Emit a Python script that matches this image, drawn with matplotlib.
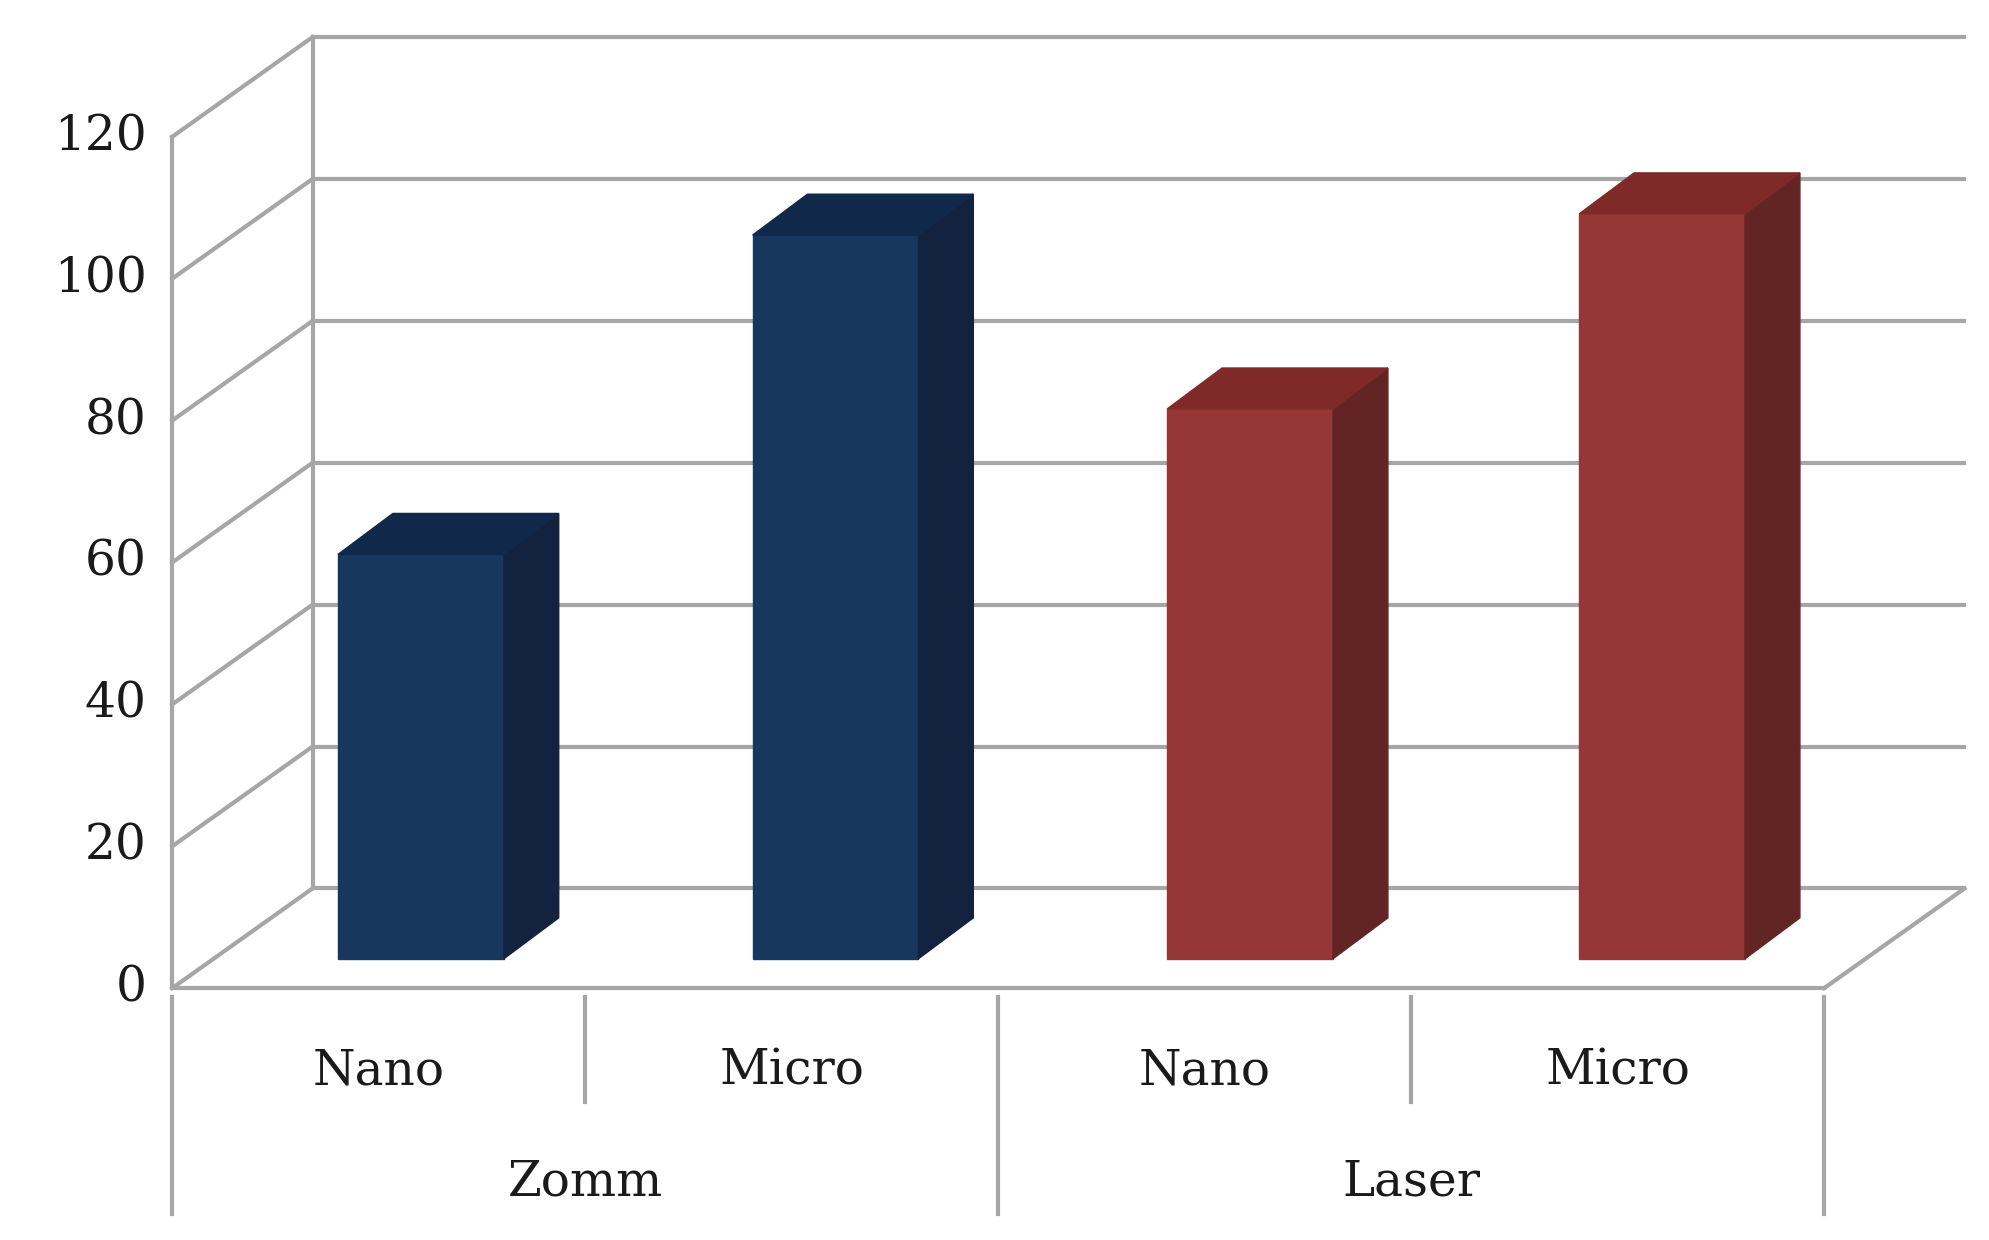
import matplotlib.pyplot as plt
from matplotlib.patches import Polygon

groups = ['Zomm', 'Laser']
categories = ['Nano', 'Micro', 'Nano', 'Micro']
values = [57, 102, 77.5, 105]
ticks = [0, 20, 40, 60, 80, 100, 120]

front = ['#17375E', '#17375E', '#953735', '#953735']
side = ['#13233F', '#13233F', '#632523', '#632523']
top = ['#10294A', '#10294A', '#7F2A28', '#7F2A28']
grid_c = '#A6A6A6'

fig = plt.figure(figsize=(19.9, 12.4), dpi=100)
ax = fig.add_axes([0, 0, 1, 1])
ax.set_xlim(0, 1560)
ax.set_ylim(970, 0)
ax.axis('off')

x0, x1 = 135, 1430
dx, dy = 110, -78
y0 = 773
scale = (773 - 107) / 120.0

def ypix(v):
    return y0 - v * scale

# back wall gridlines + left wall diagonals
for t in ticks:
    y = ypix(t)
    ax.plot([x0 + dx, x1 + dx], [y + dy, y + dy], color=grid_c, lw=3, zorder=1)
    ax.plot([x0, x0 + dx], [y, y + dy], color=grid_c, lw=3, zorder=1)
    ax.text(x0 - 20, y, str(t), ha='right', va='center', fontsize=35,
            family='DejaVu Serif', color='#1a1a1a')
ax.plot([x0, x0], [ypix(0), ypix(120)], color=grid_c, lw=3, zorder=1)
ax.plot([x0 + dx, x0 + dx], [ypix(0) + dy, ypix(120) + dy], color=grid_c, lw=3, zorder=1)
# floor
ax.plot([x0, x1], [y0, y0], color=grid_c, lw=3, zorder=1)
ax.plot([x1, x1 + dx], [y0, y0 + dy], color=grid_c, lw=3, zorder=1)

# bars
bw, bdx, bdy = 130, 43, -32
base = 750
lefts = [265, 590, 915, 1238]
for i, v in enumerate(values):
    l, r = lefts[i], lefts[i] + bw
    h = base - v * scale
    ax.add_patch(Polygon([(l, base), (r, base), (r, h), (l, h)], closed=True, color=front[i], zorder=3))
    ax.add_patch(Polygon([(r, base), (r + bdx, base + bdy), (r + bdx, h + bdy), (r, h)], closed=True, color=side[i], zorder=3))
    ax.add_patch(Polygon([(l, h), (r, h), (r + bdx, h + bdy), (l + bdx, h + bdy)], closed=True, color=top[i], zorder=3))

# category axis
seg = (x1 - x0) / len(categories)
for k in range(len(categories) + 1):
    x = x0 + k * seg
    bottom = 950 if k % 2 == 0 else 862
    ax.plot([x, x], [780, bottom], color=grid_c, lw=3)
for i, c in enumerate(categories):
    ax.text(x0 + (i + 0.5) * seg, 838, c, ha='center', va='center', fontsize=35,
            family='DejaVu Serif', color='#1a1a1a')
for j, g in enumerate(groups):
    ax.text(x0 + (2 * j + 1) * seg, 925, g, ha='center', va='center', fontsize=35,
            family='DejaVu Serif', color='#1a1a1a')

fig.savefig('out.png', dpi=100)
